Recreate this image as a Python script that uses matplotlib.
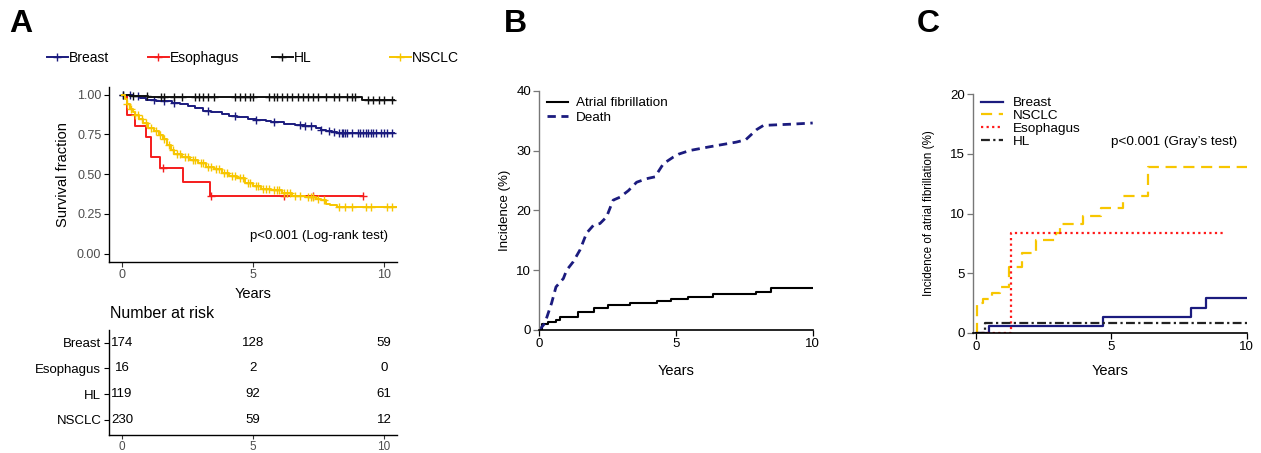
import numpy as np
import matplotlib
matplotlib.use('Agg')
import matplotlib.pyplot as plt
from matplotlib.lines import Line2D

plt.rcParams['font.family'] = ['Liberation Sans', 'DejaVu Sans']

NAVY = '#1b1b7e'
RED = '#f51c1c'
GOLD = '#f7c600'
BLACK = '#111111'

# ---- panel A: Kaplan-Meier survival ----
breast_t = [0, 0.4, 0.7, 0.9, 1.3, 1.9, 2.2, 2.5, 2.8, 3.1, 3.4, 3.8, 4.1, 4.4, 4.8, 5.1, 5.5, 5.7, 6.2, 6.6, 7.0, 7.4, 7.6, 7.8, 8.0, 8.2]
breast_s = [1.0, 0.99, 0.98, 0.965, 0.96, 0.95, 0.94, 0.93, 0.915, 0.90, 0.89, 0.877, 0.868, 0.86, 0.85, 0.843, 0.835, 0.825, 0.815, 0.808, 0.80, 0.79, 0.78, 0.77, 0.765, 0.76]
breast_end = 10.4
breast_c = [0.05, 0.3, 0.6, 1.2, 1.6, 2.0, 3.3, 4.3, 5.1, 5.8, 6.8, 7.0, 7.2, 7.6, 7.9, 8.1, 8.3, 8.4, 8.45, 8.5, 8.6, 8.8, 9.0, 9.1, 9.2, 9.3, 9.4, 9.5, 9.6, 9.7, 9.9, 10.0, 10.1, 10.3]

esoph_t = [0, 0.19, 0.51, 0.92, 1.1, 1.44, 2.31, 3.37]
esoph_s = [1.0, 0.87, 0.80, 0.735, 0.61, 0.537, 0.45, 0.36]
esoph_end = 9.2
esoph_c = [1.55, 3.4, 6.2, 7.3, 9.2]

hl_t = [0, 0.3, 1.0, 9.16]
hl_s = [1.0, 0.993, 0.984, 0.967]
hl_end = 10.4
hl_c = [0.05, 0.4, 0.95, 1.5, 1.6, 2.0, 2.3, 2.8, 2.95, 3.1, 3.3, 3.5, 4.3, 4.5, 4.7, 4.9, 5.0, 5.6, 5.8, 5.9, 6.1, 6.3, 6.5, 6.7, 6.9, 7.1, 7.3, 7.5, 7.8, 8.1, 8.3, 8.6, 8.8, 8.9, 9.4, 9.6, 9.8, 10.0, 10.3]

nsclc_t = [0, 0.1, 0.2, 0.3, 0.4, 0.5, 0.65, 0.8, 1.0, 1.2, 1.4, 1.55, 1.7, 1.85, 2.0, 2.3, 2.6, 2.9, 3.2, 3.5, 3.8, 4.1, 4.4, 4.7, 5.0, 5.3, 5.7, 6.1, 6.5, 7.0, 7.4, 7.6, 7.8, 7.95, 8.2]
nsclc_s = [1.0, 0.97, 0.94, 0.91, 0.89, 0.87, 0.845, 0.82, 0.79, 0.77, 0.746, 0.72, 0.683, 0.655, 0.63, 0.605, 0.59, 0.57, 0.548, 0.53, 0.506, 0.49, 0.475, 0.445, 0.423, 0.41, 0.40, 0.38, 0.36, 0.355, 0.345, 0.335, 0.315, 0.304, 0.295]
nsclc_end = 10.5
nsclc_c = [0.2, 0.35, 0.5, 0.6, 0.75, 0.9, 1.1, 1.3, 1.45, 1.6, 1.8, 1.95, 2.1, 2.2, 2.4, 2.5, 2.7, 2.8, 3.0, 3.1, 3.3, 3.4, 3.6, 3.7, 3.9, 4.0, 4.2, 4.3, 4.5, 4.6, 4.8, 4.9, 5.1, 5.2, 5.4, 5.5, 5.6, 5.8, 5.9, 6.0, 6.2, 6.3, 6.4, 6.6, 6.8, 7.1, 7.2, 7.3, 7.5, 7.7, 8.3, 8.5, 8.8, 9.3, 9.5, 10.1, 10.3]

groups = ['Breast', 'Esophagus', 'HL', 'NSCLC']
risk_times = [0, 5, 10]
risk_counts = [[174, 128, 59], [16, 2, 0], [119, 92, 61], [230, 59, 12]]

# ---- panel B: cumulative incidence ----
af_t = [0, 0.1, 0.3, 0.6, 0.75, 1.4, 2.0, 2.5, 3.3, 4.3, 4.8, 5.45, 6.34, 7.93, 8.47]
af_v = [0, 1.0, 1.3, 1.7, 2.2, 3.0, 3.7, 4.1, 4.5, 4.8, 5.2, 5.55, 6.0, 6.3, 7.1]
death_t = [0, 0.2, 0.45, 0.61, 0.88, 1.0, 1.24, 1.49, 1.73, 1.98, 2.22, 2.46, 2.7, 2.95, 3.26, 3.56, 3.93, 4.23, 4.54, 4.9, 5.1, 5.5, 6.2, 7.2, 7.55, 7.95, 8.2, 9.2, 10.0]
death_v = [0, 1.1, 4.5, 7.2, 8.6, 10.0, 11.4, 13.4, 16.2, 17.5, 17.8, 18.9, 21.7, 22.2, 23.3, 24.7, 25.3, 25.6, 27.8, 28.9, 29.4, 30.0, 30.6, 31.4, 31.8, 33.5, 34.2, 34.4, 34.6]

# ---- panel C: AF incidence by cancer ----
c_breast_t = [0, 0.49, 4.7, 7.93, 8.5]
c_breast_v = [0, 0.6, 1.3, 2.05, 2.95]
c_nsclc_t = [0, 0.05, 0.25, 0.6, 0.9, 1.23, 1.7, 2.2, 2.95, 3.1, 3.95, 4.6, 5.43, 6.35]
c_nsclc_v = [0, 2.5, 2.8, 3.3, 3.85, 5.5, 6.7, 7.8, 8.4, 9.1, 9.8, 10.5, 11.5, 13.9]
c_esoph_t = [0, 1.29]
c_esoph_v = [0, 8.34]
c_esoph_end = 9.11
c_hl_t = [0, 0.33]
c_hl_v = [0, 0.8]

W, H = 1261, 453
fig = plt.figure(figsize=(W / 100, H / 100), dpi=100)


def box(l, t, r, b):
    return [l / W, 1 - b / H, (r - l) / W, (b - t) / H]


def km(ax, t, s, end, cens, color):
    ax.step(list(t) + [end], list(s) + [s[-1]], where='post', color=color, lw=1.4)
    idx = np.searchsorted(t, cens, side='right') - 1
    ax.plot(cens, np.array(s)[idx], ls='none', marker='+', ms=6, mew=1, color=color)


def stepline(ax, t, v, end, **kw):
    ax.step(list(t) + [end], list(v) + [v[-1]], where='post', **kw)


# panel A main
axA = fig.add_axes(box(109, 86.7, 397, 261.7))
km(axA, breast_t, breast_s, breast_end, breast_c, NAVY)
km(axA, esoph_t, esoph_s, esoph_end, esoph_c, RED)
km(axA, hl_t, hl_s, hl_end, hl_c, BLACK)
km(axA, nsclc_t, nsclc_s, nsclc_end, nsclc_c, GOLD)
axA.set_xlim(-0.5, 10.5)
axA.set_ylim(-0.05, 1.05)
axA.set_xticks([0, 5, 10])
axA.set_yticks([0, 0.25, 0.5, 0.75, 1.0])
axA.set_yticklabels(['0.00', '0.25', '0.50', '0.75', '1.00'])
axA.set_xlabel('Years', fontsize=10.5, labelpad=4)
axA.set_ylabel('Survival fraction', fontsize=10.5, labelpad=5)
axA.text(10.15, 0.114, 'p<0.001 (Log-rank test)', ha='right', va='center', fontsize=9.5)

# risk table
axR = fig.add_axes(box(109, 330, 397, 435))
ypos = [4, 3, 2, 1]
for yy, counts in zip(ypos, risk_counts):
    for xx, n in zip(risk_times, counts):
        axR.text(xx, yy, str(n), ha='center', va='center', fontsize=9.5)
axR.set_xlim(-0.5, 10.5)
axR.set_ylim(0.4, 4.5)
axR.set_yticks(ypos)
axR.set_yticklabels(groups)
axR.set_xticks([0, 5, 10])
axR.text(-0.45, 4.85, 'Number at risk', ha='left', va='bottom', fontsize=11.5)

for ax in (axA, axR):
    for sp in ('top', 'right'):
        ax.spines[sp].set_visible(False)
    for sp in ('left', 'bottom'):
        ax.spines[sp].set_linewidth(1.0)
    ax.tick_params(length=3.5, width=0.8, pad=2, labelsize=9)
    ax.tick_params(axis='x', colors='#333333', labelcolor='#4d4d4d')
axA.tick_params(axis='y', labelcolor='#4d4d4d')
axR.tick_params(axis='y', labelsize=9.5, labelcolor='black')
axR.tick_params(axis='x', length=3, pad=1, labelsize=8.5)

# legend across top of A
legend_x = [47, 148, 272, 390]
for name, col, lx in zip(groups, [NAVY, RED, BLACK, GOLD], legend_x):
    h = Line2D([], [], color=col, lw=1.4, marker='+', ms=6, mew=1)
    fig.legend([h], [name], loc='center left', bbox_to_anchor=(lx / W, 1 - 58 / H),
               frameon=False, fontsize=10, borderpad=0, borderaxespad=0,
               handlelength=1.5, handletextpad=0.1)

# panel B
axB = fig.add_axes(box(539.3, 90.7, 812.7, 330))
stepline(axB, af_t, af_v, 10, color='black', lw=1.5, label='Atrial fibrillation')
axB.plot(death_t, death_v, color=NAVY, lw=2, ls=(0, (3, 2)), label='Death')
axB.set_xlim(0, 10)
axB.set_ylim(0, 40)
axB.set_xticks([0, 5, 10])
axB.set_yticks([0, 10, 20, 30, 40])
axB.set_xlabel('Years', fontsize=10.5, labelpad=10)
axB.set_ylabel('Incidence (%)', fontsize=9.5, labelpad=4)
axB.legend(loc='upper left', bbox_to_anchor=(0.02, 0.985), frameon=False, fontsize=9.7,
           handlelength=1.5, handletextpad=0.6, labelspacing=0.15, borderpad=0.2,
           borderaxespad=0)

# panel C
axC = fig.add_axes(box(973.3, 94.3, 1246.7, 332.7))
stepline(axC, c_breast_t, c_breast_v, 10, color=NAVY, lw=1.6, label='Breast')
stepline(axC, c_nsclc_t, c_nsclc_v, 10, color=GOLD, lw=1.6, ls=(0, (5, 3)), label='NSCLC')
stepline(axC, c_esoph_t, c_esoph_v, c_esoph_end, color='#ff1a1a', lw=1.6, ls=(0, (1, 1.5)), label='Esophagus')
stepline(axC, c_hl_t, c_hl_v, 10, color='#222222', lw=1.6, ls=(0, (4, 1.5, 1, 1.5)), label='HL')
axC.set_xlim(-0.1, 10)
axC.set_ylim(0, 20)
axC.set_xticks([0, 5, 10])
axC.set_yticks([0, 5, 10, 15, 20])
axC.set_xlabel('Years', fontsize=10.5, labelpad=8)
axC.set_ylabel('Incidence of atrial fibrillation (%)', fontsize=8.4, labelpad=11)
axC.text(5.0, 16.0, 'p<0.001 (Gray\u2019s test)', ha='left', va='center', fontsize=9.7)
axC.legend(loc='upper left', bbox_to_anchor=(0.02, 1.0), frameon=False, fontsize=9.7,
           handlelength=1.6, handletextpad=0.75, labelspacing=0.02, borderpad=0.2,
           borderaxespad=0)

for ax in (axB, axC):
    for sp in ('top', 'right'):
        ax.spines[sp].set_visible(False)
    ax.spines['left'].set_color('#777777')
    ax.spines['left'].set_linewidth(1.0)
    ax.spines['bottom'].set_linewidth(1.2)
    ax.tick_params(length=4, width=0.9, pad=2, labelsize=9.5)
    ax.tick_params(axis='y', color='#777777')

for letter, x in zip('ABC', [9, 504, 917]):
    fig.text(x / W, 1 - 9 / H, letter, fontsize=23, fontweight='bold', ha='left', va='top')

fig.savefig('out.png', dpi=100)
